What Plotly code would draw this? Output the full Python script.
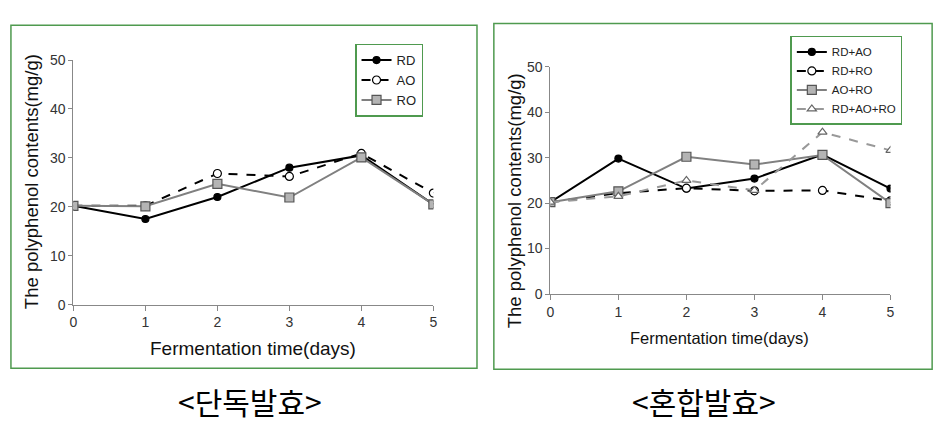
import plotly.graph_objects as go

days = [0, 1, 2, 3, 4, 5]
y_ticks = [0, 10, 20, 30, 40, 50]

# Single fermentation
rd = [20.2, 17.5, 22.0, 28.0, 30.5, 20.5]
ao = [20.2, 20.2, 26.8, 26.2, 30.9, 22.8]
ro = [20.2, 20.1, 24.7, 21.9, 30.1, 20.5]

# Mixed fermentation
rd_ao = [20.2, 29.8, 23.2, 25.4, 30.7, 23.2]
rd_ro = [20.2, 22.2, 23.3, 22.7, 22.8, 20.5]
ao_ro = [20.2, 22.6, 30.2, 28.5, 30.6, 20.0]
rd_ao_ro = [20.2, 21.5, 25.0, 22.8, 35.6, 31.6]

titles = ["<단독발효>", "<혼합발효>"]
x_title = "Fermentation time(days)"
y_title = "The polyphenol contents(mg/g)"

W, H = 952, 434
def px(x):
    return x / W
def py(y):
    return 1 - y / H

fig = go.Figure()

def add(x, y, name, xa, ya, legend, color, dash, symbol, msize, mfill, mline):
    fig.add_trace(go.Scatter(
        x=x, y=y, name=name, xaxis=xa, yaxis=ya, legend=legend,
        mode="lines+markers",
        line=dict(color=color, width=2, dash=dash),
        marker=dict(symbol=symbol, size=msize, color=mfill,
                    line=dict(color=mline, width=1.2)),
    ))

add(days, rd, "RD", "x", "y", "legend", "#000000", "solid", "circle", 7, "#000000", "#000000")
add(days, ao, "AO", "x", "y", "legend", "#000000", "dash", "circle", 8, "#ffffff", "#000000")
add(days, ro, "RO", "x", "y", "legend", "#808080", "solid", "square", 9, "#b4b4b4", "#555555")

add(days, rd_ao, "RD+AO", "x2", "y2", "legend2", "#000000", "solid", "circle", 7, "#000000", "#000000")
add(days, rd_ro, "RD+RO", "x2", "y2", "legend2", "#000000", "dash", "circle", 8, "#ffffff", "#000000")
add(days, ao_ro, "AO+RO", "x2", "y2", "legend2", "#808080", "solid", "square", 9, "#b4b4b4", "#555555")
add(days, rd_ao_ro, "RD+AO+RO", "x2", "y2", "legend2", "#999999", "dash", "triangle-up", 8, "#ffffff", "#666666")

tickfont = dict(family="Liberation Sans Narrow, Liberation Sans", size=14, color="#333333")
axis_common = dict(range=[0, 5], tickvals=days, showgrid=False, zeroline=False,
                   showline=True, linecolor="#888888", linewidth=1,
                   ticks="outside", ticklen=5, tickcolor="#888888", tickfont=tickfont)
yaxis_common = dict(range=[0, 50], tickvals=y_ticks, showgrid=False, zeroline=False,
                    showline=True, linecolor="#888888", linewidth=1,
                    ticks="outside", ticklen=4, tickcolor="#888888", tickfont=tickfont)

green = "#4f9a4f"
shapes = [
    dict(type="rect", xref="paper", yref="paper", x0=px(7), x1=px(477), y0=py(374), y1=py(18),
         line=dict(color=green, width=1.5)),
    dict(type="rect", xref="paper", yref="paper", x0=px(494), x1=px(936), y0=py(375), y1=py(16),
         line=dict(color=green, width=1.5)),
]

afont = dict(family="Liberation Sans", size=18.5, color="#111111")
annotations = [
    dict(text=x_title, x=px(251), y=py(354), xref="paper", yref="paper", showarrow=False,
         xanchor="center", yanchor="middle",
         font=dict(family="Liberation Sans", size=19, color="#111111")),
    dict(text=y_title, x=px(28), y=py(180), xref="paper", yref="paper", showarrow=False,
         xanchor="center", yanchor="middle", textangle=-90, font=afont),
    dict(text=x_title, x=px(722), y=py(343), xref="paper", yref="paper", showarrow=False,
         xanchor="center", yanchor="middle",
         font=dict(family="Liberation Sans", size=16.5, color="#111111")),
    dict(text=y_title, x=px(515), y=py(200), xref="paper", yref="paper", showarrow=False,
         xanchor="center", yanchor="middle", textangle=-90, font=afont),
    dict(text=titles[0], x=px(248), y=py(408), xref="paper", yref="paper", showarrow=False,
         xanchor="center", yanchor="middle",
         font=dict(family="Noto Sans CJK KR", size=30, color="#000000")),
    dict(text=titles[1], x=px(706), y=py(408), xref="paper", yref="paper", showarrow=False,
         xanchor="center", yanchor="middle",
         font=dict(family="Noto Sans CJK KR", size=30, color="#000000")),
]

legfont = dict(family="Liberation Sans", size=11.5, color="#222222")
fig.update_layout(
    width=W, height=H, margin=dict(l=0, r=0, t=0, b=0),
    paper_bgcolor="white", plot_bgcolor="white",
    xaxis=dict(domain=[px(70), px(433)], anchor="y", **axis_common),
    yaxis=dict(domain=[py(308), py(54)], anchor="x", **yaxis_common),
    xaxis2=dict(domain=[px(551), px(894)], anchor="y2", **axis_common),
    yaxis2=dict(domain=[py(297), py(61)], anchor="x2", **yaxis_common),
    legend=dict(x=px(354), y=py(37), xanchor="left", yanchor="top", xref="paper", yref="paper",
                bgcolor="white", bordercolor=green, borderwidth=1.5,
                font=dict(family="Liberation Sans", size=13, color="#222222"),
                tracegroupgap=0, itemwidth=30),
    legend2=dict(x=px(793), y=py(29), xanchor="left", yanchor="top", xref="paper", yref="paper",
                 bgcolor="white", bordercolor=green, borderwidth=1.5, font=legfont,
                 tracegroupgap=0, itemwidth=30),
    shapes=shapes, annotations=annotations, showlegend=True,
)

fig.write_html("out.html", config={"displayModeBar": False},
               post_script="document.body.style.margin='0';")
